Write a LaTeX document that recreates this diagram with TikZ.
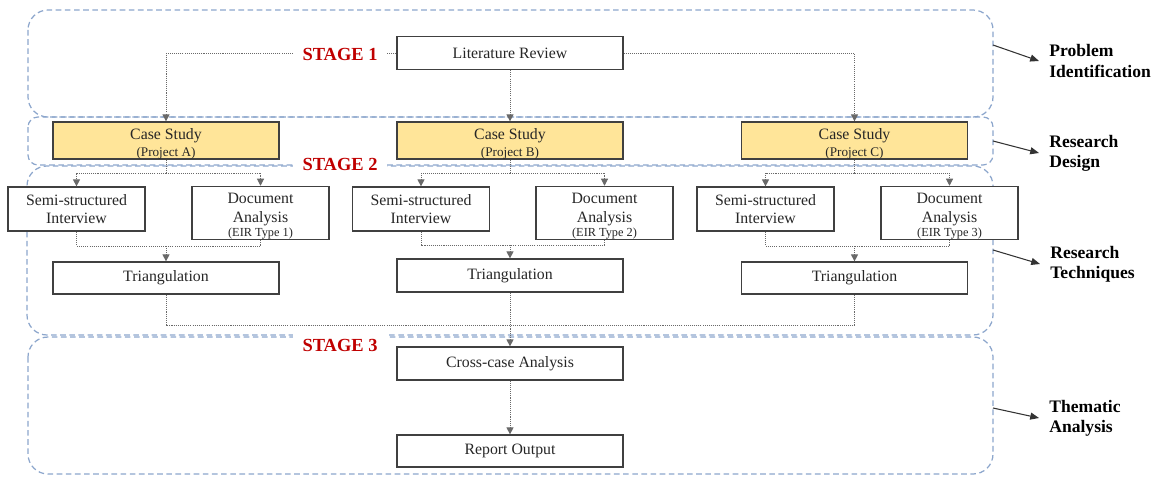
\documentclass[tikz,border=0pt]{standalone}
\usepackage{fontspec}
\setmainfont{Liberation Serif}
\usetikzlibrary{arrows.meta}
\definecolor{grpblue}{RGB}{140,166,204}
\definecolor{casefill}{RGB}{255,229,153}
\definecolor{stagered}{RGB}{192,0,0}
\definecolor{boxline}{RGB}{64,64,64}
\definecolor{dotgray}{RGB}{105,105,105}
\newcommand{\dstrut}{\rule{0pt}{9.8pt}}
\begin{document}
\begin{tikzpicture}[x=0.02cm,y=-0.02cm,
  grp/.style={draw=grpblue, line width=0.7pt, dash pattern=on 3.2pt off 2pt},
  box/.style={draw=boxline, line width=0.7pt, fill=white, text=black!85, align=center, inner sep=0pt,
    font=\fontsize{9}{10.5}\selectfont, minimum width=4.52cm, minimum height=0.66cm},
  smallbox/.style={box, minimum width=2.74cm, minimum height=0.88cm},
  docbox/.style={box, minimum width=2.74cm, minimum height=1.04cm},
  casebox/.style={box, fill=casefill, minimum height=0.74cm},
  dline/.style={draw=dotgray, line width=0.55pt, dash pattern=on 0.6pt off 0.6pt},
  conn/.style={dline, -{Triangle[length=4pt,width=4pt]}},
  stagelbl/.style={fill=white, text=stagered, font=\fontsize{10.5}{12}\selectfont\bfseries,
    minimum width=1.9cm, minimum height=0.6cm, inner sep=0pt},
  rlab/.style={anchor=west, align=left, inner sep=0pt, font=\fontsize{10}{11.5}\selectfont\bfseries},
  rarr/.style={draw=black!80, line width=0.6pt, -{Triangle[length=5pt,width=4pt]}}
]
\useasboundingbox (0,0) rectangle (1159,477);

% groups
\draw[grp, rounded corners=0.4cm] (28,10) rectangle (993,117);
\draw[grp, rounded corners=0.2cm] (28,117) rectangle (993,165);
\draw[grp, rounded corners=0.4cm] (27,166) rectangle (993,335);
\draw[grp, rounded corners=0.4cm] (28,337) rectangle (993,474);

% boxes
\path
  node[box] (lit) at (510,53) {Literature Review}
  node[casebox] (csA) at (166,140.5) {\dstrut Case Study\\[-1pt]{\fontsize{7.5}{8}\selectfont(Project A)}}
  node[casebox] (csB) at (510,140.5) {\dstrut Case Study\\[-1pt]{\fontsize{7.5}{8}\selectfont(Project B)}}
  node[casebox] (csC) at (854.5,140.5) {\dstrut Case Study\\[-1pt]{\fontsize{7.5}{8}\selectfont(Project C)}}
  node[smallbox] (siA) at (76.5,209) {Semi-structured\\Interview}
  node[docbox] (doA) at (260.5,213) {\dstrut Document\\Analysis\\[-2pt]{\fontsize{7}{8}\selectfont(EIR Type 1)}}
  node[smallbox] (siB) at (421,209) {Semi-structured\\Interview}
  node[docbox] (doB) at (604.5,213) {\dstrut Document\\Analysis\\[-2pt]{\fontsize{7}{8}\selectfont(EIR Type 2)}}
  node[smallbox] (siC) at (765.5,209) {Semi-structured\\Interview}
  node[docbox] (doC) at (949.5,213) {\dstrut Document\\Analysis\\[-2pt]{\fontsize{7}{8}\selectfont(EIR Type 3)}}
  node[box, minimum height=0.64cm] (trA) at (166,278) {Triangulation}
  node[box] (trB) at (510,275.5) {Triangulation}
  node[box, minimum height=0.64cm] (trC) at (854.5,278) {Triangulation}
  node[box] (cross) at (510,363.5) {Cross-case Analysis}
  node[box, minimum height=0.64cm] (rep) at (510,451) {Report Output};

% junction coordinates
\coordinate (jA) at (166,173);
\coordinate (jB) at (510,173);
\coordinate (jC) at (854.5,173);
\coordinate (mA) at (166,246);
\coordinate (mB) at (510,245);
\coordinate (mC) at (854.5,246);
\coordinate (bot) at (510,325);

% connectors
\draw[conn] (lit.west) -| (csA.north);
\draw[conn] (lit.east) -| (csC.north);
\draw[conn] (lit.south) -- (csB.north);

\draw[dline] (csA.south) -- (jA);
\draw[conn] (jA) -| (siA.north);
\draw[conn] (jA) -| (doA.north);
\draw[dline] (csB.south) -- (jB);
\draw[conn] (jB) -| (siB.north);
\draw[conn] (jB) -| (doB.north);
\draw[dline] (csC.south) -- (jC);
\draw[conn] (jC) -| (siC.north);
\draw[conn] (jC) -| (doC.north);

\draw[dline] (siA.south) |- (mA);
\draw[dline] (doA.south) |- (mA);
\draw[conn] (mA) -- (trA.north);
\draw[dline] (siB.south) |- (mB);
\draw[dline] (doB.south) |- (mB);
\draw[conn] (mB) -- (trB.north);
\draw[dline] (siC.south) |- (mC);
\draw[dline] (doC.south) |- (mC);
\draw[conn] (mC) -- (trC.north);

\draw[dline] (trA.south) |- (bot);
\draw[dline] (trC.south) |- (bot);
\draw[conn] (trB.south) -- (cross.north);
\draw[conn] (cross.south) -- (rep.north);

% stage labels
\node[stagelbl] (s1) at (340,54) {STAGE 1};
\node[stagelbl] (s2) at (340,164) {STAGE 2};
\node[stagelbl] (s3) at (340,345) {STAGE 3};

% redraw top boxes above group lines
\path
  node[box] at (lit) {Literature Review}
  node[casebox] at (csA) {\dstrut Case Study\\[-1pt]{\fontsize{7.5}{8}\selectfont(Project A)}}
  node[casebox] at (csB) {\dstrut Case Study\\[-1pt]{\fontsize{7.5}{8}\selectfont(Project B)}}
  node[casebox] at (csC) {\dstrut Case Study\\[-1pt]{\fontsize{7.5}{8}\selectfont(Project C)}};

% right labels
\node[rlab] (l1) at (1049,61) {Problem\\Identification};
\node[rlab] (l2) at (1049,153) {Research\\Design};
\node[rlab] (l3) at (1050,264) {Research\\Techniques};
\node[rlab] (l4) at (1049,418) {Thematic\\Analysis};
\coordinate (p1) at (993,45);
\coordinate (p2) at (993,141);
\coordinate (p3) at (993,250);
\coordinate (p4) at (993,408);
\draw[rarr] (p1) -- ([xshift=-0.2cm]l1.west);
\draw[rarr] (p2) -- ([xshift=-0.2cm]l2.west);
\draw[rarr] (p3) -- ([xshift=-0.2cm]l3.west);
\draw[rarr] (p4) -- ([xshift=-0.2cm]l4.west);
\end{tikzpicture}
\end{document}
